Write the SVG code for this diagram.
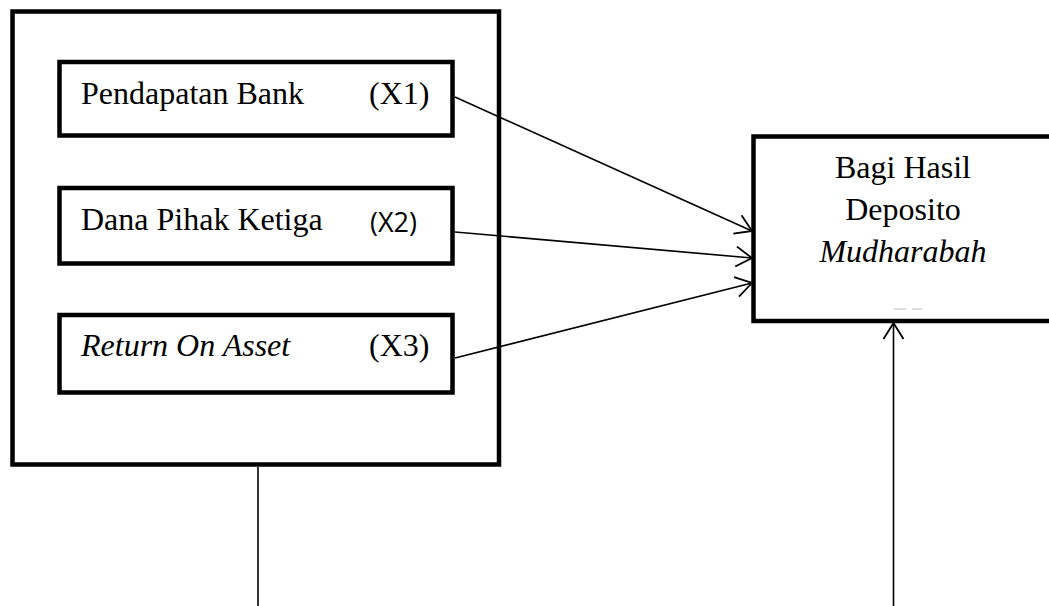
<svg xmlns="http://www.w3.org/2000/svg" width="1049" height="606" viewBox="0 0 1049 606">
<style>
.box{fill:#fff;stroke:#000;stroke-width:4.5;stroke-linejoin:miter}
.t{font-family:"Liberation Serif","Times New Roman",serif;font-size:32px;fill:#000}
.i{font-style:italic}
.s{font-family:"Open Sans","Liberation Sans",sans-serif;font-size:27px;fill:#000}
.c{stroke:#000;stroke-width:1.6;fill:none}
</style>
<defs>
<marker id="ah" markerUnits="userSpaceOnUse" viewBox="0 0 18 22" markerWidth="18" markerHeight="22" refX="17" refY="11" orient="auto">
<path d="M1,1 L17,11 L1,21" fill="none" stroke="#000" stroke-width="1.8"/>
</marker>
</defs>
<rect width="1049" height="606" fill="#fff"/>
<g id="group-x">
<rect class="box" x="12.5" y="11.5" width="486.5" height="453"/>
</g>
<g id="x1">
<rect class="box" x="59.5" y="62" width="393" height="73.5"/>
<text class="t" x="81" y="103.5">Pendapatan Bank</text>
<text class="t" x="369" y="103.5">(X1)</text>
</g>
<g id="x2">
<rect class="box" x="59.5" y="188" width="393" height="75.5"/>
<text class="t" x="81" y="230">Dana Pihak Ketiga</text>
<text class="s" x="370" y="232">(X2)</text>
</g>
<g id="x3">
<rect class="box" x="59.5" y="315" width="393" height="77.5"/>
<text class="t i" x="81" y="355.5">Return On Asset</text>
<text class="t" x="369" y="355.5">(X3)</text>
</g>
<g id="y">
<rect class="box" x="753.5" y="136.5" width="300" height="184.5"/>
<text class="t" x="903" y="177.5" text-anchor="middle">Bagi Hasil</text>
<text class="t" x="903" y="220" text-anchor="middle">Deposito</text>
<text class="t i" x="903" y="262" text-anchor="middle">Mudharabah</text>
<line x1="894" y1="309" x2="906" y2="309" stroke="#bbb" stroke-width="1"/>
<line x1="912" y1="309" x2="922" y2="309" stroke="#bbb" stroke-width="1"/>
</g>
<g id="connectors">
<line class="c" x1="455" y1="97" x2="752" y2="231" marker-end="url(#ah)"/>
<line class="c" x1="455" y1="232" x2="752" y2="258" marker-end="url(#ah)"/>
<line class="c" x1="455" y1="358" x2="752" y2="283" marker-end="url(#ah)"/>
<line class="c" x1="258" y1="467" x2="258" y2="606" stroke-width="2"/>
<line class="c" x1="893.5" y1="606" x2="893.5" y2="323" marker-end="url(#ah)"/>
</g>
</svg>
